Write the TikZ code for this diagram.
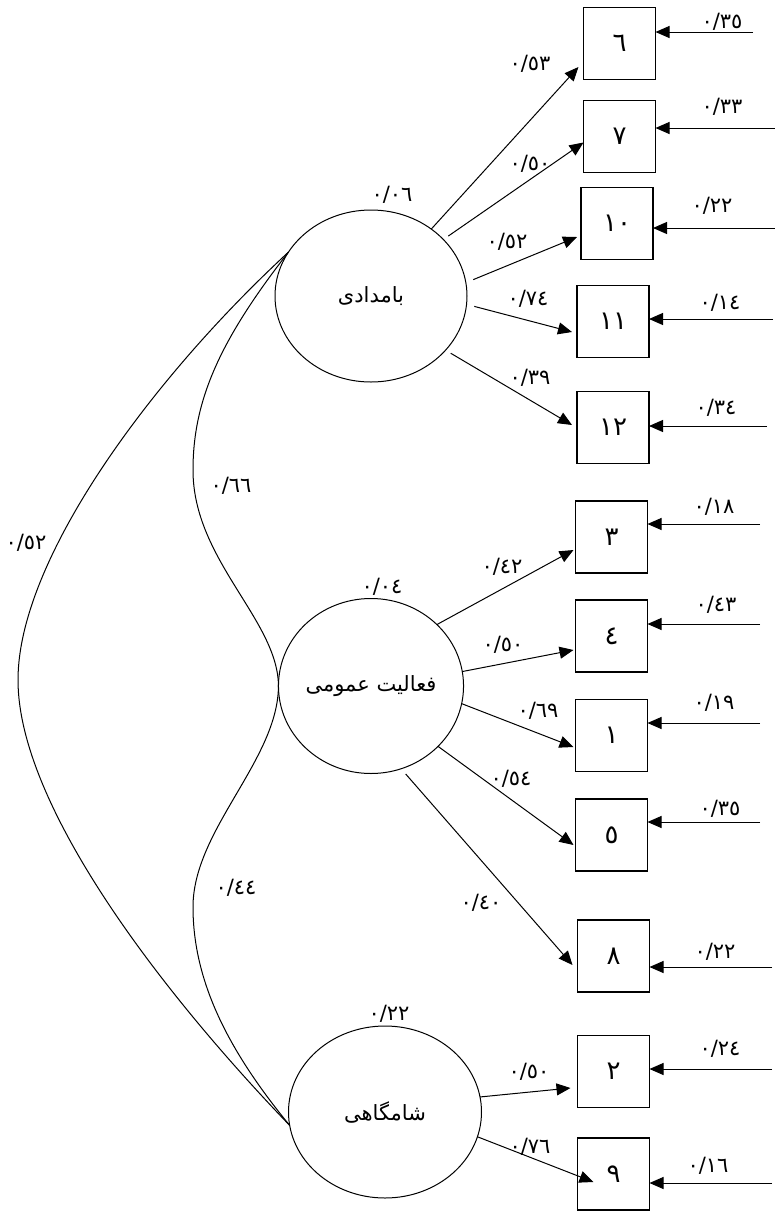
\documentclass[tikz,border=0pt]{standalone}
\usepackage{fontspec}
\usetikzlibrary{shapes.geometric,arrows.meta}
\TeXXeTstate=1
\newfontfamily\fafont[Script=Arabic]{DejaVu Sans}
\tikzset{
  latent/.style={ellipse,draw,line width=1pt,inner sep=0pt,outer sep=0pt,font=\fafont\fontsize{21}{24}\selectfont},
  obs/.style={draw,line width=1.1pt,minimum width=72pt,minimum height=72pt,inner sep=0pt,outer sep=0pt,font=\fafont\fontsize{26}{30}\selectfont},
  coef/.style={font=\fafont\fontsize{21}{24}\selectfont,inner sep=0pt},
  load/.style={line width=1pt,-{Triangle[length=14pt,width=12pt]}},
  cov/.style={line width=1pt}
}
\begin{document}
\begin{tikzpicture}[x=1pt,y=-1pt]
  \useasboundingbox (0,0) rectangle (775,1211);

  \node[latent,minimum width=192pt,minimum height=172pt] (bam) at (371,296) {\beginR بامدادی\endR};
  \node[latent,minimum width=182pt,minimum height=175pt] (faal) at (371,686) {\beginR فعالیت عمومی\endR};
  \node[latent,minimum width=193pt,minimum height=172pt] (sham) at (385,1112) {\beginR شامگاهی\endR};

  % observed items with their error terms
  \foreach \nm/\lab/\bx/\by/\ex/\ey/\ev/\lx/\ly in {
    a6/٦/619.5/43.5/753/32/٣٥/722/22,
    a7/٧/619.5/136.5/775/128/٣٣/722/107,
    a10/١٠/617/223.5/775/228/٢٢/712/206,
    a11/١١/613/321.5/773/319/١٤/720/303,
    a12/١٢/613/427.5/767/426/٣٤/716/408,
    a3/٣/611.5/537/760/524/١٨/714/507,
    a4/٤/611.5/636/760/624/٤٣/716/605,
    a1/١/611.5/735.5/760/723/١٩/714/703,
    a5/٥/611.5/835/760/822/٣٥/720/809,
    a8/٨/613.5/956/772/967/٢٢/715/952,
    a2/٢/613.5/1071.5/772/1069/٢٤/720/1049,
    a9/٩/613.5/1174/772/1183/١٦/708/1166}{
    \node[obs] (\nm) at (\bx,\by) {\lab};
    \coordinate (e\nm) at (\ex,\ey);
    \draw[load] (e\nm) -- (\nm.east |- e\nm);
    \node[coef] (l\nm) at (\lx,\ly) {٠/\ev};
  }

  % factor loadings
  \foreach \src/\ang/\sh/\tgt/\dx/\dy/\lx/\ly/\val in {
    bam/48/0/a6/-5/23.5/530/64/٥٣,
    bam/38/6/a7/0/6/530/164/٥٠,
    bam/8/8/a10/-4/13.5/507/242/٥٢,
    bam/355/8/a11/-5/10.5/528/299/٧٤,
    bam/324/6/a12/-5/-2.5/530/378/٣٩,
    faal/43/0/a3/-2/13/502/567/٤٢,
    faal/9/0/a4/-2/14/503/645/٥٠,
    faal/349/0/a1/-2/11.5/538/711/٦٩,
    faal/318/0/a5/-2/10/511/779/٥٤,
    faal/290/7/a8/-5/9/481/903/٤٠,
    sham/9/0/a2/-7/16.5/529/1072/٥٠,
    sham/345/0/a9/16/8/530/1147/٧٦}{
    \draw[load,shorten <=\sh pt] (\src.\ang) -- ([shift={(\dx,\dy)}]\tgt.west);
    \node[coef] at (\lx,\ly) {٠/\val};
  }

  % variances
  \node[coef] (vbam) at (392,195) {٠/٠٦};
  \node[coef] (vfaal) at (382,587) {٠/٠٤};
  \node[coef] (vsham) at (389,1014) {٠/٢٢};

  % correlations
  \draw[cov] (bam.152) .. controls (150,380) and (18,560) .. (18,680)
    .. controls (18,800) and (150,980) .. (sham.188);
  \draw[cov] (bam.152) .. controls (220,340) and (193,400) .. (193,470)
    .. controls (193,560) and (278,620) .. (faal.180);
  \draw[cov] (faal.180) .. controls (278,760) and (193,830) .. (193,907)
    .. controls (193,985) and (232,1055) .. (sham.188);
  \node[coef] (c52) at (26,543) {٠/٥٢};
  \node[coef] (c66) at (231,486) {٠/٦٦};
  \node[coef] (c44) at (236,888) {٠/٤٤};
\end{tikzpicture}
\end{document}
